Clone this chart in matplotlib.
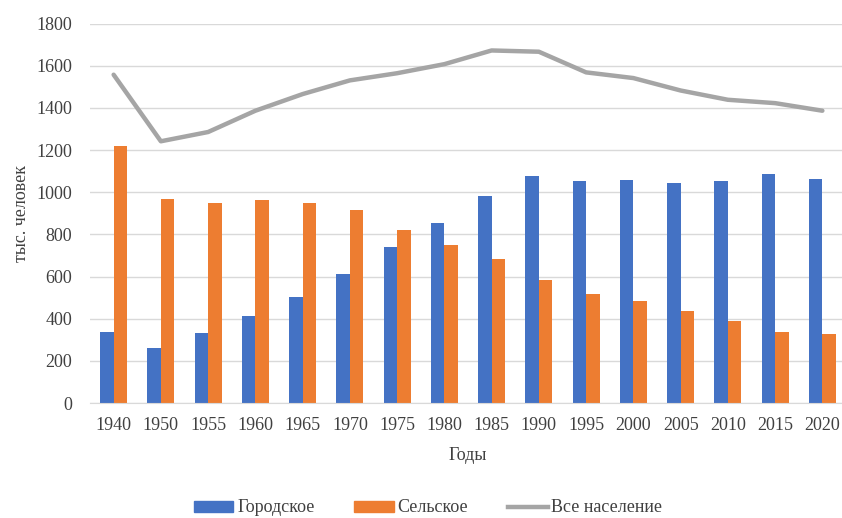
import numpy as np
import matplotlib.pyplot as plt
from matplotlib.lines import Line2D
from matplotlib.patches import Patch

# data (тыс. человек)
years = ["1940", "1950", "1955", "1960", "1965", "1970", "1975", "1980",
         "1985", "1990", "1995", "2000", "2005", "2010", "2015", "2020"]
urban = [335, 262, 330, 411, 501, 613, 739, 852,
         982, 1076, 1052, 1057, 1046, 1052, 1085, 1062]
rural = [1219, 970, 949, 965, 949, 915, 823, 750,
         681, 586, 518, 482, 437, 387, 335, 326]
total = [1558, 1242, 1286, 1387, 1466, 1531, 1565, 1608,
         1673, 1667, 1569, 1542, 1483, 1439, 1423, 1387]

plt.rcParams['font.family'] = ['Liberation Serif', 'DejaVu Serif']
txt_col = "#404040"
fs = 13

fig = plt.figure(figsize=(8.42, 5.18), dpi=100)
W, H = 842, 518
ax = fig.add_axes([90 / W, 1 - 403 / H, (846 - 90) / W, (403 - 23.7) / H])

x = np.arange(len(years))
w = 0.285
ax.bar(x - w / 2, urban, w, color="#4472C4", zorder=2)
ax.bar(x + w / 2, rural, w, color="#ED7D31", zorder=2)
ax.plot(x, total, color="#A5A5A5", lw=3.2, zorder=3, solid_capstyle="round")

ax.set_xlim(-0.5, len(years) - 0.5)
ax.set_ylim(0, 1800)
ax.set_yticks(np.arange(0, 1801, 200))
ax.set_xticks(x)
ax.set_xticklabels(years)
ax.grid(axis="y", color="#d9d9d9", lw=1, zorder=0)
for s in ["top", "right", "left"]:
    ax.spines[s].set_visible(False)
ax.spines["bottom"].set_color("#d9d9d9")
ax.tick_params(length=0, labelsize=fs, colors=txt_col)
ax.tick_params(axis="x", pad=10)
ax.tick_params(axis="y", pad=13)

fig.text(22 / W, 1 - 213 / H, "тыс. человек", rotation=90, ha="center",
         va="center", fontsize=fs, color=txt_col)
fig.text(468 / W, 1 - 455 / H, "Годы", ha="center", va="center",
         fontsize=fs, color=txt_col)

handles = [Patch(color="#4472C4"), Patch(color="#ED7D31"),
           Line2D([], [], color="#A5A5A5", lw=3.2)]
fig.legend(handles, ["Городское", "Сельское", "Все население"],
           loc="center", bbox_to_anchor=(428 / W, 1 - 508 / H), ncol=3,
           frameon=False, fontsize=fs, handlelength=2.2, handleheight=0.55,
           handletextpad=0.2, columnspacing=2.2, labelcolor=txt_col)

fig.savefig("out.png", dpi=100)
